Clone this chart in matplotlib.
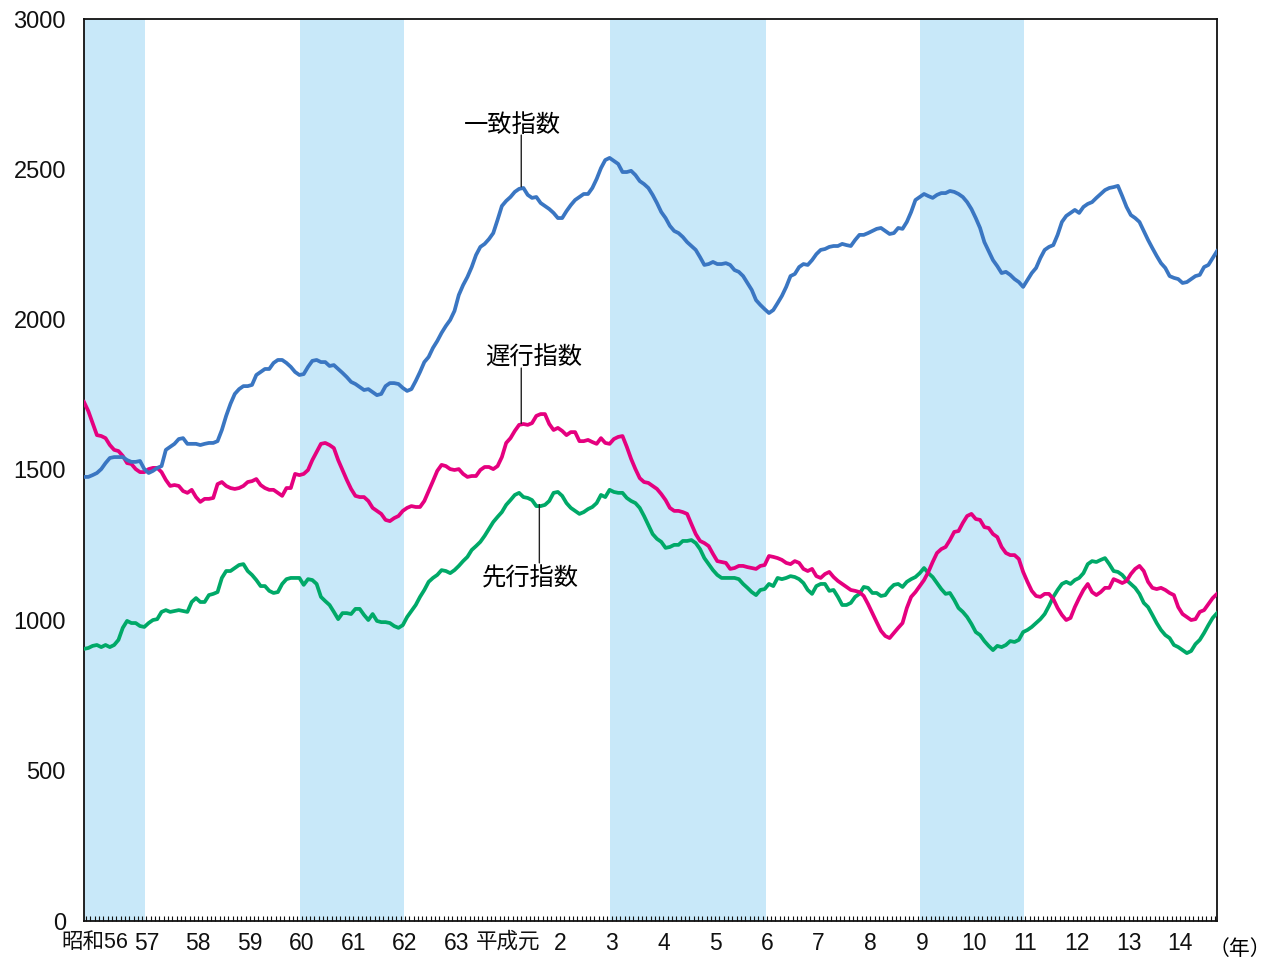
import numpy as np
import matplotlib
matplotlib.use("Agg")
import matplotlib.pyplot as plt
from matplotlib.ticker import FixedLocator

plt.rcParams['font.family'] = ['Liberation Sans', 'Noto Sans CJK JP']

# ---------------- data (monthly, starting Oct 1980) ----------------
START_YEAR, START_MONTH = 1980, 10

coincident = [  # 一致指数
    1477, 1477, 1483, 1490, 1503, 1523, 1540, 1543, 1543, 1543,
    1533, 1527, 1527, 1530, 1503, 1490, 1497, 1507, 1513, 1567,
    1577, 1587, 1603, 1606, 1587, 1587, 1587, 1583, 1587, 1590,
    1590, 1596, 1633, 1680, 1720, 1753, 1769, 1779, 1779, 1783,
    1816, 1826, 1836, 1836, 1856, 1866, 1866, 1856, 1843, 1826,
    1816, 1819, 1843, 1863, 1866, 1859, 1859, 1846, 1849, 1836,
    1823, 1809, 1793, 1786, 1776, 1766, 1769, 1759, 1749, 1753,
    1779, 1789, 1789, 1786, 1773, 1763, 1769, 1796, 1826, 1859,
    1876, 1906, 1929, 1956, 1979, 1999, 2029, 2082, 2115, 2142,
    2175, 2215, 2242, 2252, 2268, 2288, 2332, 2378, 2395, 2408,
    2425, 2435, 2438, 2415, 2405, 2408, 2388, 2378, 2368, 2355,
    2338, 2338, 2361, 2381, 2398, 2408, 2418, 2418, 2438, 2468,
    2504, 2531, 2538, 2528, 2518, 2491, 2491, 2495, 2481, 2461,
    2451, 2438, 2415, 2388, 2358, 2338, 2312, 2295, 2288, 2275,
    2258, 2245, 2232, 2208, 2182, 2185, 2192, 2185, 2185, 2188,
    2182, 2165, 2159, 2145, 2122, 2099, 2065, 2049, 2035, 2022,
    2032, 2055, 2079, 2109, 2145, 2152, 2175, 2185, 2182, 2198,
    2218, 2232, 2235, 2242, 2245, 2245, 2252, 2248, 2245, 2265,
    2282, 2282, 2288, 2295, 2302, 2305, 2295, 2285, 2288, 2305,
    2302, 2325, 2358, 2398, 2408, 2418, 2411, 2405, 2415, 2421,
    2421, 2428, 2425, 2418, 2408, 2391, 2368, 2338, 2305, 2258,
    2228, 2198, 2178, 2155, 2159, 2149, 2135, 2125, 2109, 2132,
    2155, 2172, 2205, 2232, 2242, 2248, 2282, 2325, 2345, 2355,
    2365, 2355, 2375, 2385, 2391, 2405, 2418, 2431, 2438, 2441,
    2445, 2411, 2375, 2348, 2338, 2325, 2295, 2265, 2238, 2212,
    2188, 2172, 2145, 2139, 2135, 2122, 2125, 2135, 2145, 2149,
    2175, 2182, 2205, 2228,
]

lagging = [  # 遅行指数
    1726, 1696, 1656, 1616, 1613, 1606, 1583, 1567, 1563, 1547,
    1523, 1520, 1503, 1493, 1493, 1503, 1507, 1507, 1493, 1467,
    1447, 1450, 1447, 1430, 1424, 1434, 1410, 1394, 1404, 1404,
    1407, 1453, 1460, 1447, 1440, 1437, 1440, 1447, 1460, 1463,
    1470, 1450, 1440, 1434, 1434, 1424, 1414, 1440, 1440, 1487,
    1483, 1487, 1500, 1533, 1560, 1587, 1590, 1583, 1573, 1533,
    1500, 1467, 1437, 1414, 1410, 1410, 1397, 1374, 1364, 1354,
    1334, 1330, 1340, 1347, 1364, 1374, 1380, 1377, 1377, 1397,
    1430, 1463, 1497, 1517, 1513, 1503, 1500, 1503, 1487, 1477,
    1480, 1480, 1500, 1510, 1510, 1503, 1513, 1543, 1590, 1606,
    1630, 1650, 1653, 1650, 1656, 1680, 1686, 1686, 1653, 1633,
    1640, 1630, 1616, 1626, 1626, 1596, 1596, 1600, 1593, 1587,
    1606, 1590, 1587, 1603, 1610, 1613, 1577, 1537, 1503, 1473,
    1460, 1457, 1447, 1437, 1420, 1400, 1374, 1364, 1364, 1360,
    1354, 1320, 1287, 1264, 1257, 1247, 1221, 1197, 1194, 1191,
    1171, 1174, 1181, 1181, 1177, 1174, 1171, 1181, 1184, 1214,
    1211, 1207, 1201, 1191, 1187, 1197, 1191, 1171, 1164, 1171,
    1147, 1141, 1154, 1161, 1144, 1131, 1121, 1111, 1101, 1098,
    1094, 1081, 1054, 1024, 994, 965, 948, 941, 958, 975,
    991, 1041, 1078, 1094, 1114, 1134, 1161, 1194, 1224, 1237,
    1244, 1267, 1294, 1297, 1324, 1347, 1354, 1337, 1334, 1310,
    1307, 1287, 1277, 1244, 1224, 1217, 1217, 1204, 1161, 1128,
    1098, 1081, 1078, 1088, 1088, 1071, 1041, 1018, 1001, 1008,
    1044, 1074, 1101, 1121, 1094, 1084, 1094, 1108, 1108, 1137,
    1131, 1124, 1131, 1154, 1171, 1181, 1164, 1128, 1108, 1104,
    1108, 1101, 1091, 1084, 1044, 1021, 1011, 1001, 1004, 1028,
    1034, 1054, 1074, 1088,
]

leading = [  # 先行指数
    905, 908, 915, 918, 911, 918, 911, 918, 935, 975,
    998, 991, 991, 981, 978, 991, 1001, 1004, 1028, 1034,
    1028, 1031, 1034, 1031, 1028, 1061, 1074, 1061, 1061, 1084,
    1088, 1094, 1141, 1164, 1164, 1174, 1184, 1187, 1164, 1151,
    1134, 1114, 1114, 1098, 1091, 1094, 1121, 1137, 1141, 1141,
    1141, 1118, 1137, 1134, 1121, 1078, 1064, 1051, 1028, 1004,
    1024, 1024, 1021, 1038, 1038, 1018, 1001, 1021, 998, 994,
    994, 991, 981, 975, 984, 1011, 1031, 1051, 1078, 1101,
    1128, 1141, 1151, 1167, 1164, 1157, 1167, 1181, 1197, 1211,
    1234, 1247, 1261, 1281, 1304, 1327, 1344, 1360, 1384, 1400,
    1417, 1424, 1410, 1407, 1400, 1380, 1380, 1384, 1397, 1424,
    1427, 1414, 1390, 1374, 1364, 1354, 1360, 1370, 1377, 1390,
    1417, 1410, 1434, 1427, 1424, 1424, 1407, 1397, 1390, 1374,
    1347, 1317, 1287, 1271, 1261, 1241, 1244, 1251, 1251, 1264,
    1264, 1267, 1257, 1237, 1207, 1187, 1167, 1151, 1141, 1141,
    1141, 1141, 1137, 1121, 1108, 1094, 1084, 1101, 1104, 1121,
    1114, 1141, 1137, 1141, 1147, 1144, 1137, 1124, 1101, 1088,
    1114, 1121, 1121, 1098, 1101, 1078, 1051, 1051, 1058, 1078,
    1088, 1111, 1108, 1091, 1091, 1081, 1084, 1104, 1118, 1121,
    1111, 1128, 1137, 1144, 1157, 1174, 1157, 1144, 1124, 1104,
    1088, 1091, 1068, 1041, 1028, 1011, 988, 961, 951, 931,
    915, 901, 915, 911, 918, 931, 928, 935, 961, 968,
    978, 991, 1004, 1021, 1048, 1078, 1101, 1121, 1128, 1121,
    1134, 1141, 1157, 1187, 1197, 1194, 1201, 1207, 1187, 1164,
    1161, 1151, 1134, 1121, 1108, 1088, 1058, 1044, 1018, 991,
    968, 951, 941, 918, 911, 901, 891, 898, 921, 935,
    958, 984, 1008, 1024,
]

year_labels = ['昭和56', '57', '58', '59', '60', '61', '62', '63', '平成元',
               '2', '3', '4', '5', '6', '7', '8', '9', '10', '11', '12', '13', '14']
first_label_year = 1981

# shaded periods (year, month) start -> end
shaded_periods = [((1980, 10), (1982, 1)), ((1985, 1), (1987, 1)),
                  ((1991, 1), (1994, 1)), ((1997, 1), (1999, 1))]

series_names = ['一致指数', '遅行指数', '先行指数']

# ---------------- styling ----------------
BLUE = '#3a76c2'
MAGENTA = '#e5007f'
GREEN = '#00a968'
SHADE = '#c8e8f9'
LW = 2.7


def mpos(y, m):
    """axis position of the boundary at the start of month (y, m)"""
    return 12 * (y - START_YEAR) + (m - START_MONTH) - 0.5


fig = plt.figure(figsize=(12.69, 9.61), dpi=100)
ax = fig.add_axes([84 / 1269, 1 - 921 / 961, (1217 - 84) / 1269, (921 - 19) / 961])

n = len(coincident)
x = np.arange(n)

for s, e in shaded_periods:
    ax.axvspan(mpos(*s) - 0.4, mpos(*e) - 0.3, color=SHADE, lw=0, zorder=0)

ax.plot(x, leading, color=GREEN, lw=LW, zorder=3, solid_joinstyle='round')
ax.plot(x, lagging, color=MAGENTA, lw=LW, zorder=3, solid_joinstyle='round')
ax.plot(x, coincident, color=BLUE, lw=LW, zorder=3, solid_joinstyle='round')

ax.set_xlim(0, n - 1)
ax.set_ylim(0, 3000)
ax.set_yticks(np.arange(0, 3001, 500))
ax.tick_params(axis='y', length=0, pad=13, labelsize=17, colors='#111111')

year_pos = [mpos(first_label_year + k, 1) for k in range(len(year_labels))]
ax.set_xticks(year_pos)
ax.set_xticklabels(year_labels)
ax.xaxis.set_minor_locator(FixedLocator(np.arange(0.5, n - 1, 1.0)))
ax.tick_params(axis='x', which='both', direction='in', length=3.5, width=0.8,
               pad=8, labelsize=16.5, colors='#111111')
for lbl in ax.get_xticklabels():
    if not lbl.get_text().isascii():
        lbl.set_fontsize(15.5)

for sp in ax.spines.values():
    sp.set_linewidth(1.3)
    sp.set_color('#111111')

ax.annotate('（年）', xy=(1.020, -0.031), xycoords='axes fraction',
            ha='center', va='center', fontsize=15, annotation_clip=False)

# labels with leader lines
lead = dict(arrowstyle='-', lw=1.0, color='#222222', shrinkA=0, shrinkB=0)
ax.text(99.4, 2647, series_names[0], ha='center', va='center', fontsize=17.5)
ax.annotate('', xy=(101.5, 2442), xytext=(101.5, 2614), arrowprops=lead)

ax.text(104.3, 1873, series_names[1], ha='center', va='center', fontsize=17.5)
ax.annotate('', xy=(101.5, 1655), xytext=(101.5, 1839), arrowprops=lead)

ax.text(103.6, 1137, series_names[2], ha='center', va='center', fontsize=17.5)
ax.annotate('', xy=(105.7, 1385), xytext=(105.7, 1191), arrowprops=lead)

fig.savefig('out.png', dpi=100)
